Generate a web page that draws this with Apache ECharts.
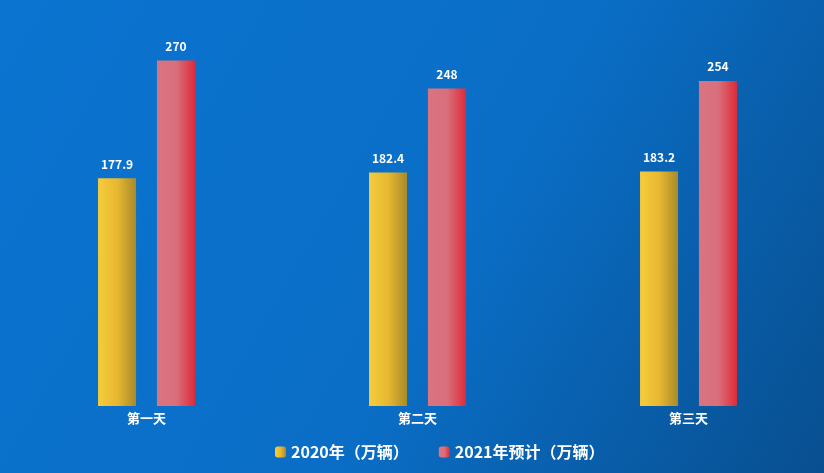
<!DOCTYPE html>
<html><head><meta charset="utf-8">
<script src="https://cdn.jsdelivr.net/npm/echarts@6/dist/echarts.min.js"></script>
<style>html,body{margin:0;padding:0}#c{width:824px;height:473px}</style>
</head><body><div id="c"></div>
<script>
const categories = ['第一天','第二天','第三天'];
const seriesNames = ['2020年（万辆）','2021年预计（万辆）'];
const values2020 = [177.9, 182.4, 183.2];
const values2021 = [270, 248, 254];
const chart = echarts.init(document.getElementById('c'));
const grad = (a,b,c)=>new echarts.graphic.LinearGradient(0,0,1,0,[{offset:0,color:a},{offset:0.5,color:b},{offset:1,color:c}]);
const font = '"Noto Sans CJK SC", sans-serif';
chart.setOption({
  backgroundColor: new echarts.graphic.LinearGradient(0,0,1,1,[{offset:0,color:'#0a74d0'},{offset:0.55,color:'#0a6ec6'},{offset:1,color:'#084f90'}]),
  grid:{left:11,right:-6,top:22,bottom:67},
  legend:{bottom:8,left:270,itemWidth:11,itemHeight:11,itemGap:30,
    textStyle:{color:'#fff',fontSize:16,fontWeight:'bold',fontFamily:font}},
  xAxis:{type:'category',data:categories,axisLine:{show:false},axisTick:{show:false},
    axisLabel:{color:'#fff',fontSize:13,fontWeight:'bold',fontFamily:font,margin:6}},
  yAxis:{type:'value',min:0,max:300,show:false},
  series:[
    {name:seriesNames[0],type:'bar',data:values2020,barWidth:38,barGap:'55%',
     itemStyle:{color:grad('#f5cc3c','#e8b830','#a88a2a')},
     label:{show:true,position:'top',color:'#fff',fontWeight:'bold',fontSize:12,fontFamily:font,distance:8}},
    {name:seriesNames[1],type:'bar',data:values2021,barWidth:38,
     itemStyle:{color:grad('#d87480','#d8707c','#e02a38')},
     label:{show:true,position:'top',color:'#fff',fontWeight:'bold',fontSize:12,fontFamily:font,distance:8}}
  ]
});
</script></body></html>
